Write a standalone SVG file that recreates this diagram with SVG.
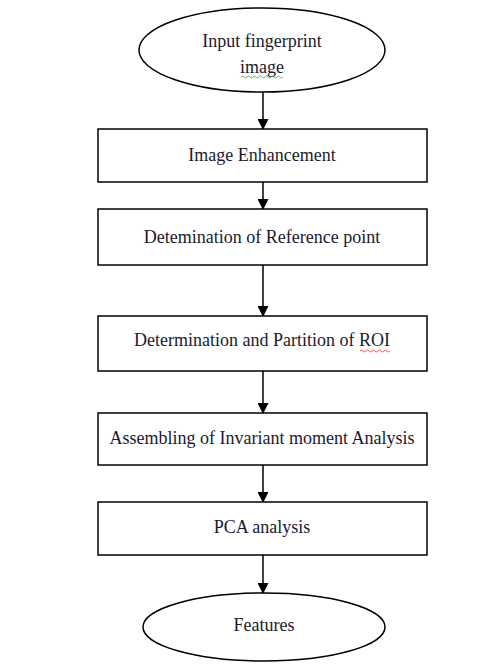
<svg xmlns="http://www.w3.org/2000/svg" width="499" height="665" viewBox="0 0 499 665">
<defs>
<marker id="ah" markerWidth="11" markerHeight="11" refX="10" refY="5.5" orient="auto" markerUnits="userSpaceOnUse">
<path d="M0,0 L11,5.5 L0,11 Z" fill="#000"/>
</marker>
</defs>
<style>
.shape{fill:#fff;stroke:#000;stroke-width:1.5}
.lbl{font-family:"Liberation Serif","DejaVu Serif",serif;font-size:18px;fill:#1a1a2e;text-anchor:middle}
.conn{stroke:#000;stroke-width:1.5;fill:none;marker-end:url(#ah)}
.wavy{fill:none;stroke-width:0.8}
</style>
<rect width="499" height="665" fill="#fff"/>
<g id="connectors">
<line class="conn" x1="263" y1="92" x2="263" y2="129"/>
<line class="conn" x1="263" y1="182" x2="263" y2="209"/>
<line class="conn" x1="263" y1="265" x2="263" y2="316"/>
<line class="conn" x1="263" y1="371" x2="263" y2="413"/>
<line class="conn" x1="263" y1="465" x2="263" y2="502"/>
<line class="conn" x1="263" y1="555" x2="263" y2="593"/>
</g>
<g id="input">
<ellipse class="shape" cx="262" cy="50" rx="123" ry="42"/>
<text class="lbl" x="262" y="47">Input fingerprint</text>
<text class="lbl" x="262" y="73">image</text>
<path class="wavy" stroke="#3a3" d="M241,77 q1.5,-2 3,0 t3,0 t3,0 t3,0 t3,0 t3,0 t3,0 t3,0 t3,0 t3,0 t3,0 t3,0 t3,0 t3,0"/>
</g>
<g id="enhance">
<rect class="shape" x="98" y="129" width="329" height="53"/>
<text class="lbl" x="262" y="161">Image Enhancement</text>
</g>
<g id="refpoint">
<rect class="shape" x="98" y="209" width="329" height="56"/>
<text class="lbl" x="262" y="243">Detemination of Reference point</text>
</g>
<g id="roi">
<rect class="shape" x="98" y="316" width="329" height="55"/>
<text class="lbl" x="262" y="346">Determination and Partition of ROI</text>
<path class="wavy" stroke="#d33" d="M360,351 q1.5,-2 3,0 t3,0 t3,0 t3,0 t3,0 t3,0 t3,0 t3,0 t3,0 t3,0"/>
</g>
<g id="moment">
<rect class="shape" x="98" y="413" width="329" height="52"/>
<text class="lbl" x="262" y="444">Assembling of Invariant moment Analysis</text>
</g>
<g id="pca">
<rect class="shape" x="98" y="502" width="329" height="53"/>
<text class="lbl" x="262" y="533">PCA analysis</text>
</g>
<g id="features">
<ellipse class="shape" cx="264" cy="627" rx="121" ry="34"/>
<text class="lbl" x="264" y="631">Features</text>
</g>
</svg>
